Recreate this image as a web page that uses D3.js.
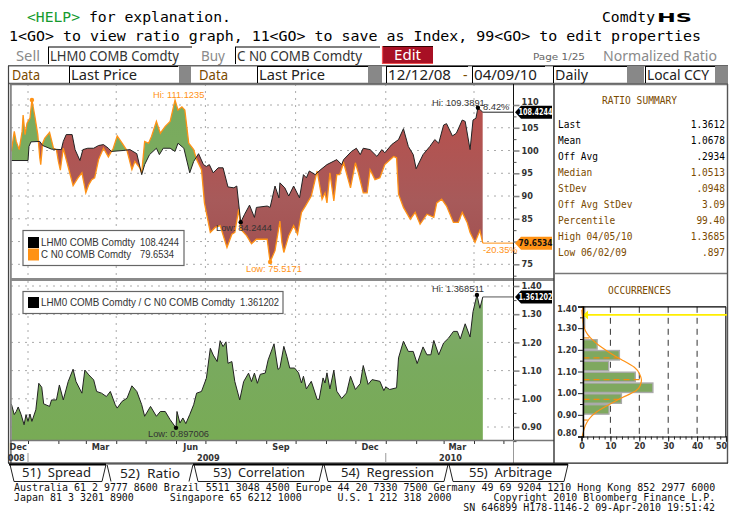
<!DOCTYPE html>
<html><head><meta charset="utf-8">
<style>html,body{margin:0;padding:0;background:#fff;overflow:hidden}svg{display:block}</style>
<script src="https://cdn.jsdelivr.net/npm/d3@7"></script></head><body>
<script>
// ---- data (days = days since 2008-12-15) ----
const lhmDays=[0,17,18,20,29,32,41,51,53,56,62,65,70,73,78,84,89,94,99,102,114,121,128,133,136,141,148,151,155,162,167,170,176,182,186,191,196,199,202,206,211,216,221,227,230,234,238,243,248,250,261,264,269,273,274,279,283,288,294,298,301,304,310,315,322,332,337,339,347,352,356,359,366,373,378,381,388,395,400,405,410,413,420,427,432,436,441,444,450,454,460,463,468,471,474,476,481];
const lhmValues=[97.8,97.8,100.9,101.9,102,101.1,100.3,100.2,102,103.5,103.5,100.2,97.8,100.2,100.5,100.5,101.1,101.3,100.5,99.8,100,100.2,99.3,94.7,96.9,99.1,100.5,99.1,100.5,100.5,99.8,101.6,100.5,95.1,97.6,99.3,96.9,96.5,96.9,95.1,96.2,96.2,92,91.8,92.2,84.24,86,88,85.3,87.5,87.8,87.5,92.2,89.6,92.9,91.8,90,92.2,89.6,94.7,94,95.5,94.7,95.7,96.9,98,96.9,98,99.8,100.5,99.1,100.5,100.2,98.7,100.2,99.5,101.3,102.4,104.8,100.9,99.1,96,99.1,100.9,102.4,101.6,105.6,105.9,103.2,103.8,106.7,106.4,100.2,106.7,107.1,109.39,108.42];
const cornDays=[0,3,5,8,11,12,14,16,19,21,24,27,29,30,32,34,39,43,46,48,50,53,56,63,68,72,76,79,82,85,89,94,99,104,108,113,118,123,126,131,133,136,140,143,148,152,157,162,167,170,174,177,181,186,189,194,197,203,208,213,220,225,228,232,234,240,245,250,261,264,269,274,276,278,283,288,292,296,300,306,312,317,320,322,325,329,332,335,339,346,351,354,359,363,366,371,376,381,390,393,395,400,407,412,417,424,431,434,439,444,451,456,460,465,468,473,478,481];
const cornValues=[99.8,104.2,102,100.2,104.2,107.8,103.5,106,107.1,111.12,107.5,103.5,98.4,96.9,101.6,102.7,104,100.5,100.2,97.6,95.7,100.5,98,92.3,94,95.1,90.7,92.5,93.6,94,98,100.5,98.6,100.5,103.2,101.6,100,95.8,97.6,96.2,95.1,102,101.6,103.1,106.4,103.8,105.3,106.4,111.1,108.9,109.6,108.9,101.6,100.2,98,95.8,88.5,82,83.1,83.5,78.7,81.6,82,87.1,82.7,81.3,79.5,80.5,80.5,75.52,78,84.5,79.8,77.6,81.3,83.5,81.6,86.4,87.8,90,95.5,89.3,90.7,88.5,95.1,88.9,94.7,94.7,97.3,91.8,97.3,95.1,90.7,90.7,95.8,93.6,94,96.9,98.7,98.4,90.4,87.5,84.9,86.4,83.8,86,85.3,88.5,89.3,87.8,84.2,84.2,86.4,84.2,82,79.8,82.4,79.65];
const ratioDays=[0,3,5,7,10,13,15,17,19,21,25,28,31,33,39,41,46,49,53,58,63,66,72,75,79,84,87,92,97,101,106,108,113,118,123,128,133,136,142,148,152,157,162,168,169,172,175,178,182,186,189,194,199,203,206,210,213,216,219,221,225,228,233,237,242,245,248,251,254,259,262,268,272,274,278,281,284,289,293,296,298,301,306,312,314,318,320,322,325,329,332,337,342,346,351,356,359,364,368,376,380,382,386,393,395,400,405,410,414,420,424,428,431,436,441,446,451,455,458,463,468,471,475,478,481];
const ratioValues=[0.982,0.944,0.955,0.971,0.944,0.908,0.944,0.92,0.946,0.92,0.961,1.055,1.041,0.982,0.973,0.996,0.996,1.049,0.996,1.061,1.105,1.061,1.02,1.102,1.085,1.067,1.026,1.02,1.008,1.026,0.979,0.967,0.991,1.002,1.046,1.026,0.979,0.938,0.973,0.938,0.955,0.955,0.926,0.897,0.955,0.914,0.932,0.912,0.944,0.979,1.02,1.026,1.073,1.179,1.155,1.132,1.206,1.185,1.202,1.126,1.132,1.061,0.996,1.061,1.091,1.061,1.091,1.055,1.087,1.091,1.138,1.195,1.104,1.11,1.186,1.151,1.109,1.109,1.092,1.056,1.08,1.035,1.062,0.998,0.998,1.074,1.056,1.092,1.035,1.101,1.027,1.001,1.021,1.08,1.033,1.054,1.118,1.051,1.068,1.062,1.029,1.042,1.033,1.039,1.145,1.204,1.168,1.168,1.125,1.184,1.156,1.156,1.207,1.156,1.198,1.215,1.239,1.239,1.212,1.266,1.219,1.309,1.3685,1.321,1.3612];
const priceTicks=[75,80,85,90,95,100,105,110];
const ratioTicks=[0.9,1.0,1.1,1.2,1.3,1.4];
const quarterStarts=["2009-01-01","2009-04-01","2009-07-01","2009-10-01","2010-01-01","2010-04-01"];
const monthLabels=["Dec","Mar","Jun","Sep","Dec","Mar"];
const monthLabelDates=["2008-12-22","2009-03-16","2009-06-16","2009-09-16","2009-12-16","2010-03-15"];
const yearLabels=["008","2009","2010"];
const yearLabelDates=["2008-12-20","2009-07-04","2010-03-08"];
const binStarts=[0.85,0.9,0.95,1.0,1.05,1.1,1.15,1.2,1.25,1.3,1.35];
const binCounts=[0.6,9.5,13.8,24.7,18.6,9.4,13.1,5.4,0.6,1.1,1.1];
const curveLevels=[0.797,0.82,0.85,0.881,0.911,0.947,0.98,1.011,1.034,1.061,1.087,1.118,1.156,1.189,1.224,1.255,1.285,1.324,1.385];
const curveCounts=[0.2,0.6,1.2,2.5,4.6,9.5,14,19.5,20.3,21,20.2,19,13.5,9.5,5.5,3,1.2,0.5,0.1];
const sdLevels=[0.876,0.971,1.0626,1.1626,1.255];
const sdCounts=[2.2,14.2,21,13,2.8];
const summaryLabels=["Last","Mean","Off Avg","Median","StDev","Off Avg StDev","Percentile","High 04/05/10","Low 06/02/09"];
const summaryValues=["1.3612","1.0678",".2934","1.0513",".0948","3.09","99.40","1.3685",".897"];
const tabLabels=["51)  Spread","52)  Ratio","53)  Correlation","54)  Regression","55)  Arbitrage"];
const footerLines=["Australia 61 2 9777 8600 Brazil 5511 3048 4500 Europe 44 20 7330 7500 Germany 49 69 9204 1210 Hong Kong 852 2977 6000",
"Japan 81 3 3201 8900      Singapore 65 6212 1000      U.S. 1 212 318 2000       Copyright 2010 Bloomberg Finance L.P.",
"SN 646899 H178-1146-2 09-Apr-2010 19:51:42"];

// ---- setup ----
const W=736,H=527;
const svg=d3.select("body").append("svg").attr("width",W).attr("height",H).attr("viewBox",`0 0 ${W} ${H}`);
svg.append("rect").attr("width",W).attr("height",H).attr("fill","#fff");
const MONO="'DejaVu Sans Mono',monospace", SANS="'DejaVu Sans',sans-serif", ARIAL="'Liberation Sans',Arial,sans-serif", NOTO="'Noto Sans',sans-serif";
const BROWN="#7a4a00",GRAY="#888",ORANGE="#ff9215";
function txt(x,y,s,o={}){
  const t=svg.append("text").attr("x",x).attr("y",y).text(s)
   .attr("font-family",o.font||MONO).attr("font-size",o.size||14.7).attr("fill",o.fill||"#000")
   .attr("font-weight",o.weight||"normal").attr("text-anchor",o.anchor||"start").attr("xml:space","preserve").style("white-space","pre");
  if(o.w) t.attr("textLength",o.w).attr("lengthAdjust","spacingAndGlyphs");
  return t;
}
function rect(x,y,w,h,fill,stroke,sw){return svg.append("rect").attr("x",x).attr("y",y).attr("width",w).attr("height",h).attr("fill",fill||"none").attr("stroke",stroke||"none").attr("stroke-width",sw||0);}
function hl(x1,y1,x2,y2,c,sw,dash){const l=svg.append("line").attr("x1",x1).attr("y1",y1).attr("x2",x2).attr("y2",y2).attr("stroke",c).attr("stroke-width",sw||1);if(dash)l.attr("stroke-dasharray",dash);return l;}

// header text
txt(27,22,"<HELP>",{fill:"#159a2e",w:53});
txt(89,22,"for explanation.",{w:142});
txt(602,22,"Comdty",{w:53});
txt(657,22,"HS",{font:SANS,weight:"bold",size:12.5,w:35});
txt(9,41,"1<GO> to view ratio graph, 11<GO> to save as Index, 99<GO> to edit properties",{w:692});
// row 3
txt(16,61,"Sell",{font:NOTO,size:14,fill:"#8a8a8a",w:24});
rect(48,47,144,17,"#fff");hl(48,47,192,47,"#000",1.2);hl(48.5,47,48.5,64,"#000",1);
txt(50,61,"LHM0 COMB Comdty",{font:NOTO,size:14,fill:"#333",w:129});
txt(201,61,"Buy",{font:NOTO,size:14,fill:"#8a8a8a",w:24});
hl(235,47,380,47,"#000",1.2);hl(235.5,47,235.5,64,"#000",1);
txt(237,61,"C N0 COMB Comdty",{font:NOTO,size:14,fill:"#333",w:125});
rect(382,46,51,18,"#a81024");hl(382,46.5,433,46.5,"#300",1);hl(382.5,46,382.5,64,"#f05050",1.2);hl(382,63.5,433,63.5,"#f05050",1);
txt(407.5,60,"Edit",{font:NOTO,size:13.5,fill:"#fff",anchor:"middle",w:27});
txt(533,60,"Page 1/25",{font:SANS,size:9,fill:"#666",w:52});
txt(603,61,"Normalized Ratio",{font:NOTO,size:14,fill:"#8a8a8a",w:114});
// row 4
rect(8,66,720,18,"#fff");hl(8,65.7,728,65.7,"#666",1.6);hl(8,83.5,728,83.5,"#666",1.6);
rect(179,66,12,17,GRAY);rect(368,66,14,17,GRAY);rect(627,66,17,17,GRAY);rect(715,66,12,17,GRAY);rect(727,66,1,17,GRAY);
function box(x,w){hl(x,66.5,x+w,66.5,"#000",1.2);hl(x+.5,66,x+.5,83,"#000",1);}
box(69,109);box(257,111);box(386,82);box(472,73);box(553,74);box(645,70);
txt(12,80,"Data",{font:NOTO,size:14,fill:BROWN,w:28});
txt(71,80,"Last Price",{font:NOTO,size:14,fill:"#222",w:66});
txt(199,80,"Data",{font:NOTO,size:14,fill:BROWN,w:29});
txt(259,80,"Last Price",{font:NOTO,size:14,fill:"#222",w:66});
txt(388,80,"12/12/08",{font:NOTO,size:14,fill:"#222",w:63});
txt(463,80,"-",{font:NOTO,size:14,fill:BROWN});
txt(474,80,"04/09/10",{font:NOTO,size:14,fill:"#222",w:63});
txt(555,80,"Daily",{font:NOTO,size:14,fill:"#222",w:33});
txt(647,80,"Local CCY",{font:NOTO,size:14,fill:"#222",w:62});

// ---- scales ----
const parse=d3.utcParse("%Y-%m-%d");
const x=d3.scaleUtc().domain([parse("2009-01-01"),parse("2010-04-01")]).range([28,474]);
const startDay=parse("2008-12-15");
const dayDate=d=>d3.utcDay.offset(startDay,d);
const plotL=11,plotR=513;
const topT=84,topB=278,botT=281,botB=440;
const yP=d3.scaleLinear().domain([75,110]).range([264.3,105]);
const yR=d3.scaleLinear().domain([0.9,1.4]).range([427,286]);
const pts=(days,vals)=>days.map((d,i)=>[x(dayDate(d)),vals[i]]);
const lhm=pts(lhmDays,lhmValues),corn=pts(cornDays,cornValues),ratio=pts(ratioDays,ratioValues);

const defs=svg.append("defs");
function grad(id,stops){const g=defs.append("linearGradient").attr("id",id).attr("x1",0).attr("x2",0).attr("y1",0).attr("y2",1);
 stops.forEach(s=>g.append("stop").attr("offset",s[0]).attr("stop-color",s[1]));}
grad("gGreen",[[0,"#78a95e"],[1,"#7dae5e"]]);
grad("gRed",[[0,"#b8504c"],[.55,"#a75a5a"],[1,"#a04c4c"]]);
grad("gRatio",[[0,"#7faa6c"],[.5,"#79aa5e"],[1,"#78ab55"]]);

// gridlines
const grid=svg.append("g").attr("stroke","#aaa").attr("stroke-width",1).attr("stroke-dasharray","2,5");
priceTicks.forEach(v=>grid.append("line").attr("x1",plotL).attr("x2",plotR).attr("y1",yP(v)).attr("y2",yP(v)));
ratioTicks.forEach(v=>grid.append("line").attr("x1",plotL).attr("x2",plotR).attr("y1",yR(v)).attr("y2",yR(v)));
quarterStarts.forEach(d=>{const X=x(parse(d));
  grid.append("line").attr("x1",X).attr("x2",X).attr("y1",topT).attr("y2",topB);
  grid.append("line").attr("x1",X).attr("x2",X).attr("y1",botT).attr("y2",botB);});

// difference areas
const above=d3.area().x(d=>d[0]).y0(topT).y1(d=>yP(d[1]));
const below=d3.area().x(d=>d[0]).y0(topB).y1(d=>yP(d[1]));
defs.append("clipPath").attr("id","cBelowCorn").append("path").attr("d",below(corn));
defs.append("clipPath").attr("id","cAboveCorn").append("path").attr("d",above(corn));
svg.append("path").attr("d",above(lhm)).attr("fill","url(#gGreen)").attr("clip-path","url(#cBelowCorn)");
svg.append("path").attr("d",below(lhm)).attr("fill","url(#gRed)").attr("clip-path","url(#cAboveCorn)");
const lineP=d3.line().x(d=>d[0]).y(d=>yP(d[1]));
svg.append("path").attr("d",lineP(corn)).attr("fill","none").attr("stroke",ORANGE).attr("stroke-width",1.3);
svg.append("path").attr("d",lineP(lhm)).attr("fill","none").attr("stroke","#222").attr("stroke-width",1);
const xEnd=x(dayDate(481));
hl(xEnd,yP(108.42),plotR,yP(108.42),"#222",1);
hl(xEnd,yP(79.65),plotR,yP(79.65),ORANGE,1);

// ratio area
const areaR=d3.area().x(d=>d[0]).y0(botB).y1(d=>yR(d[1]));
const lineR=d3.line().x(d=>d[0]).y(d=>yR(d[1]));
svg.append("path").attr("d",areaR(ratio)).attr("fill","url(#gRatio)");
svg.append("path").attr("d",lineR(ratio)).attr("fill","none").attr("stroke","#222").attr("stroke-width",1);
hl(xEnd,yR(1.3612),plotR,yR(1.3612),"#555",1);

// frames
hl(8.5,66,8.5,463,"#444",1.2);
hl(10.8,84,10.8,463,"#888",2);
hl(10,84.5,728,84.5,"#777",1.6);
hl(10,279.5,554,279.5,"#8a8a8a",3);
hl(10,440.5,554,440.5,"#777",1.4);
hl(plotR+.5,84,plotR+.5,440,"#111",1);
hl(plotR+.5,440,plotR+.5,463,"#999",1);
hl(554,84,554,463,"#333",1.4);
hl(554,273.5,727,273.5,"#777",1.5);
hl(727.5,84,727.5,463,"#555",1.4);
hl(8,463.2,728,463.2,"#222",1.2);

// axes
function yAxis(scale,major,minor,fmt,dy){
  const gm=svg.append("g").attr("transform",`translate(${plotR+.5},0)`).call(d3.axisRight(scale).tickValues(minor).tickSize(3).tickFormat(""));
  gm.select(".domain").remove();gm.selectAll("line").attr("stroke","#555");
  const g=svg.append("g").attr("transform",`translate(${plotR+.5},0)`).call(d3.axisRight(scale).tickValues(major).tickSize(6).tickFormat(fmt));
  g.select(".domain").remove();g.selectAll("line").attr("stroke","#888").attr("stroke-width",1.6);
  g.selectAll("text").attr("font-family",SANS).attr("font-weight","bold").attr("font-size",8.2).attr("fill","#333").attr("x",8);
  if(dy) g.selectAll("text").attr("y",dy);
}
const minorOf=(t,s)=>t.map(v=>v-s);
// the 80 label sits behind the orange price tag in the reference, and 110 peeks out above the black one
yAxis(yP,priceTicks,minorOf(priceTicks,2.5),v=>v===80?"":d3.format("d")(v),d=>d===110?-3:0);
yAxis(yR,ratioTicks,minorOf(ratioTicks,0.05),d3.format(".2f"));
const months=d3.utcMonth.range(parse("2009-01-01"),parse("2010-05-15"));
const gx=svg.append("g").attr("transform",`translate(0,${botB+1})`).call(d3.axisBottom(x).tickValues(months).tickSize(3).tickFormat(""));
gx.select(".domain").remove();gx.selectAll("line").attr("stroke","#333");
monthLabels.forEach((m,i)=>txt(x(parse(monthLabelDates[i])),449.5,m,{font:SANS,weight:"bold",size:8.2,anchor:"middle",fill:"#333"}));
yearLabels.forEach((m,i)=>txt(x(parse(yearLabelDates[i])),460.5,m,{font:SANS,weight:"bold",size:8.2,anchor:"middle",fill:"#333"}));
hl(x(parse(quarterStarts[0])),453,x(parse(quarterStarts[0])),463,"#999",1);
hl(x(parse(quarterStarts[4])),453,x(parse(quarterStarts[4])),463,"#999",1);

// annotations
function dot(X,Y,c){svg.append("circle").attr("cx",X).attr("cy",Y).attr("r",2.2).attr("fill",c);}
const A=(X,Y,s,c,a)=>txt(X,Y,s,{font:ARIAL,size:9.3,fill:c,anchor:a||"start"});
const dX=d=>x(dayDate(d));
dot(dX(21),yP(111.12),ORANGE);A(153,98,"Hi: 111.1235",ORANGE);
dot(dX(234),yP(84.24),"#000");A(216,231,"Low: 84.2444","#333");
dot(dX(264),yP(75.52),ORANGE);A(246,272,"Low: 75.5171",ORANGE);
dot(dX(476),yP(109.39),"#000");A(432,106,"Hi: 109.3891","#333");
A(483,110,"8.42%","#333");A(483,253,"-20.35%",ORANGE);
dot(dX(475),yR(1.3685),"#000");A(432,292,"Hi: 1.368511","#333");
dot(dX(168),yR(0.897),"#000");A(148,437,"Low: 0.897006","#333");

// tags
function tag(Y,fill,label,color){
  const a=d3.path();a.moveTo(515,Y);a.lineTo(521,Y-6.5);a.lineTo(552,Y-6.5);a.lineTo(552,Y+6.5);a.lineTo(521,Y+6.5);a.closePath();
  svg.append("path").attr("d",a.toString()).attr("fill",fill);
  txt(535.5,Y+3.2,label,{font:SANS,weight:"bold",size:8.2,fill:color,anchor:"middle",w:34});
}
tag(yP(108.42),"#000","108.4244","#fff");
tag(yP(79.65),ORANGE,"79.6534","#111");
tag(yR(1.3612),"#000","1.361202","#fff");

// legends
rect(23,230.5,161,35,"#fff","#666",1.2);
rect(28,237,11,11,"#000");rect(28,248.5,11,12,ORANGE);
txt(41,246,"LHM0 COMB Comdty",{font:ARIAL,size:10.5,fill:"#333",w:94});txt(140,246,"108.4244",{font:ARIAL,size:10.5,fill:"#333",w:39});
txt(41,258,"C N0 COMB Comdty",{font:ARIAL,size:10.5,fill:"#333",w:90});txt(140,258,"79.6534",{font:ARIAL,size:10.5,fill:"#333",w:34});
rect(23,291.5,260,22,"#fff","#666",1.2);
rect(28,297,11,11,"#000");
txt(41,306,"LHM0 COMB Comdty / C N0 COMB Comdty",{font:ARIAL,size:10.5,fill:"#333",w:194});txt(240,306,"1.361202",{font:ARIAL,size:10.5,fill:"#333",w:39});

// ratio summary
txt(602,104,"RATIO SUMMARY",{size:10.5,fill:BROWN,w:75});
summaryLabels.forEach((s,i)=>{const c=i<3?"#000":BROWN,Y=128+i*16;
  txt(558,Y,s,{size:10.5,fill:c,w:s.length*5.72});
  txt(725,Y,summaryValues[i],{size:10.5,fill:c,anchor:"end"}).attr("textLength",summaryValues[i].length*5.72).attr("lengthAdjust","spacingAndGlyphs");
});

// occurrences
txt(608,294,"OCCURRENCES",{size:10.5,fill:BROWN,w:63});
const oX=d3.scaleLinear().domain([0,50]).range([581.5,726]);
const oY=d3.scaleLinear().domain([0.8,1.4]).range([436.5,306.5]);
const oT=306.8;
[10,20,30,40].forEach(v=>hl(oX(v),oT,oX(v),436.5,"#333",1,"6,5"));
binStarts.forEach((b,i)=>{
  rect(oX(0)+1.5,oY(b+0.05)+.7,Math.max(oX(binCounts[i])-oX(0)-1.5,0),oY(b)-oY(b+0.05)-1.4,"#7fa85f","#aaa",1.4);
});
sdLevels.forEach((v,i)=>hl(oX(0)+2,oY(v),oX(sdCounts[i]),oY(v),"#f08a10",1.2,"6,4"));
const curve=d3.line().x((d,i)=>oX(curveCounts[i])).y(d=>oY(d)).curve(d3.curveBasis);
svg.append("path").attr("d",curve(curveLevels)).attr("fill","none").attr("stroke",ORANGE).attr("stroke-width",1.2);
hl(oX(0),oT,726,oT,"#000",1.2);hl(725.8,oT,725.8,437,"#222",1.2);
hl(583,oT,583,315,ORANGE,2);
hl(583,oY(1.3612),736-9,oY(1.3612),"#ffee00",1.6);
const tri=d3.path();tri.moveTo(583,oY(1.3612));tri.lineTo(588,oY(1.3612)-4.5);tri.lineTo(588,oY(1.3612)+4.5);tri.closePath();
svg.append("path").attr("d",tri.toString()).attr("fill","#ffee00");
const oLeft=svg.append("g").attr("transform","translate(583,0)").call(d3.axisLeft(oY).tickValues(d3.range(0.8,1.401,0.1)).tickSize(5).tickFormat(d3.format(".2f")));
oLeft.select(".domain").attr("stroke","#000").attr("stroke-width",1.4);
oLeft.selectAll("line").attr("stroke","#222");
oLeft.selectAll("text").attr("font-family",SANS).attr("font-weight","bold").attr("font-size",8).attr("fill","#333").attr("x",-6)
   .attr("dy",(d)=>d>1.39?"0.6em":d<0.81?"-0.1em":"0.32em");
const oLeftM=svg.append("g").attr("transform","translate(583,0)").call(d3.axisLeft(oY).tickValues(d3.range(0.85,1.4,0.1)).tickSize(3).tickFormat(""));
oLeftM.select(".domain").remove();oLeftM.selectAll("line").attr("stroke","#222");
const oBot=svg.append("g").attr("transform","translate(0,436.5)").call(d3.axisBottom(oX).tickValues(d3.range(0,51,10)).tickSize(5).tickFormat(d3.format("d")));
oBot.select(".domain").attr("stroke","#000").attr("stroke-width",1.2);
oBot.selectAll("line").attr("stroke","#222");
oBot.selectAll("text").attr("font-family",SANS).attr("font-weight","bold").attr("font-size",8).attr("fill","#333").attr("dy","0.5em").attr("dx",d=>d==50?-5:0);
const oBotM=svg.append("g").attr("transform","translate(0,436.5)").call(d3.axisBottom(oX).tickValues(d3.range(0,51,2)).tickSize(3).tickFormat(""));
oBotM.select(".domain").remove();oBotM.selectAll("line").attr("stroke","#222");

// tabs
const tabL=[9,106,193,323,448],tabR=[106,193,323,448,568],tabTextX=[22,120,213,341,469],tabTextW=[69,60,92,93,83];
tabLabels.forEach((t,i)=>{
  const L=tabL[i],R=tabR[i],sel=i==1;
  hl(L+1,464.5,L+5,481.5,"#222",1);hl(R,464.5,R-4,481.5,"#222",1);
  if(sel){hl(L,464.5,R,464.5,"#999",1);}
  else{hl(L,464.5,R,464.5,"#000",2);hl(L+5,481.5,R-4,481.5,"#222",1);}
  txt(tabTextX[i],sel?478:477,t,{font:NOTO,size:13,fill:"#222",w:tabTextW[i]});
});

// footer
const fw=5.993;
txt(14,491,footerLines[0],{size:9.9,fill:"#111",w:footerLines[0].length*fw});
txt(14,501,footerLines[1],{size:9.9,fill:"#111",w:footerLines[1].length*fw});
txt(715,511,footerLines[2],{size:9.9,fill:"#111",anchor:"end",w:footerLines[2].length*fw});
</script></body></html>
